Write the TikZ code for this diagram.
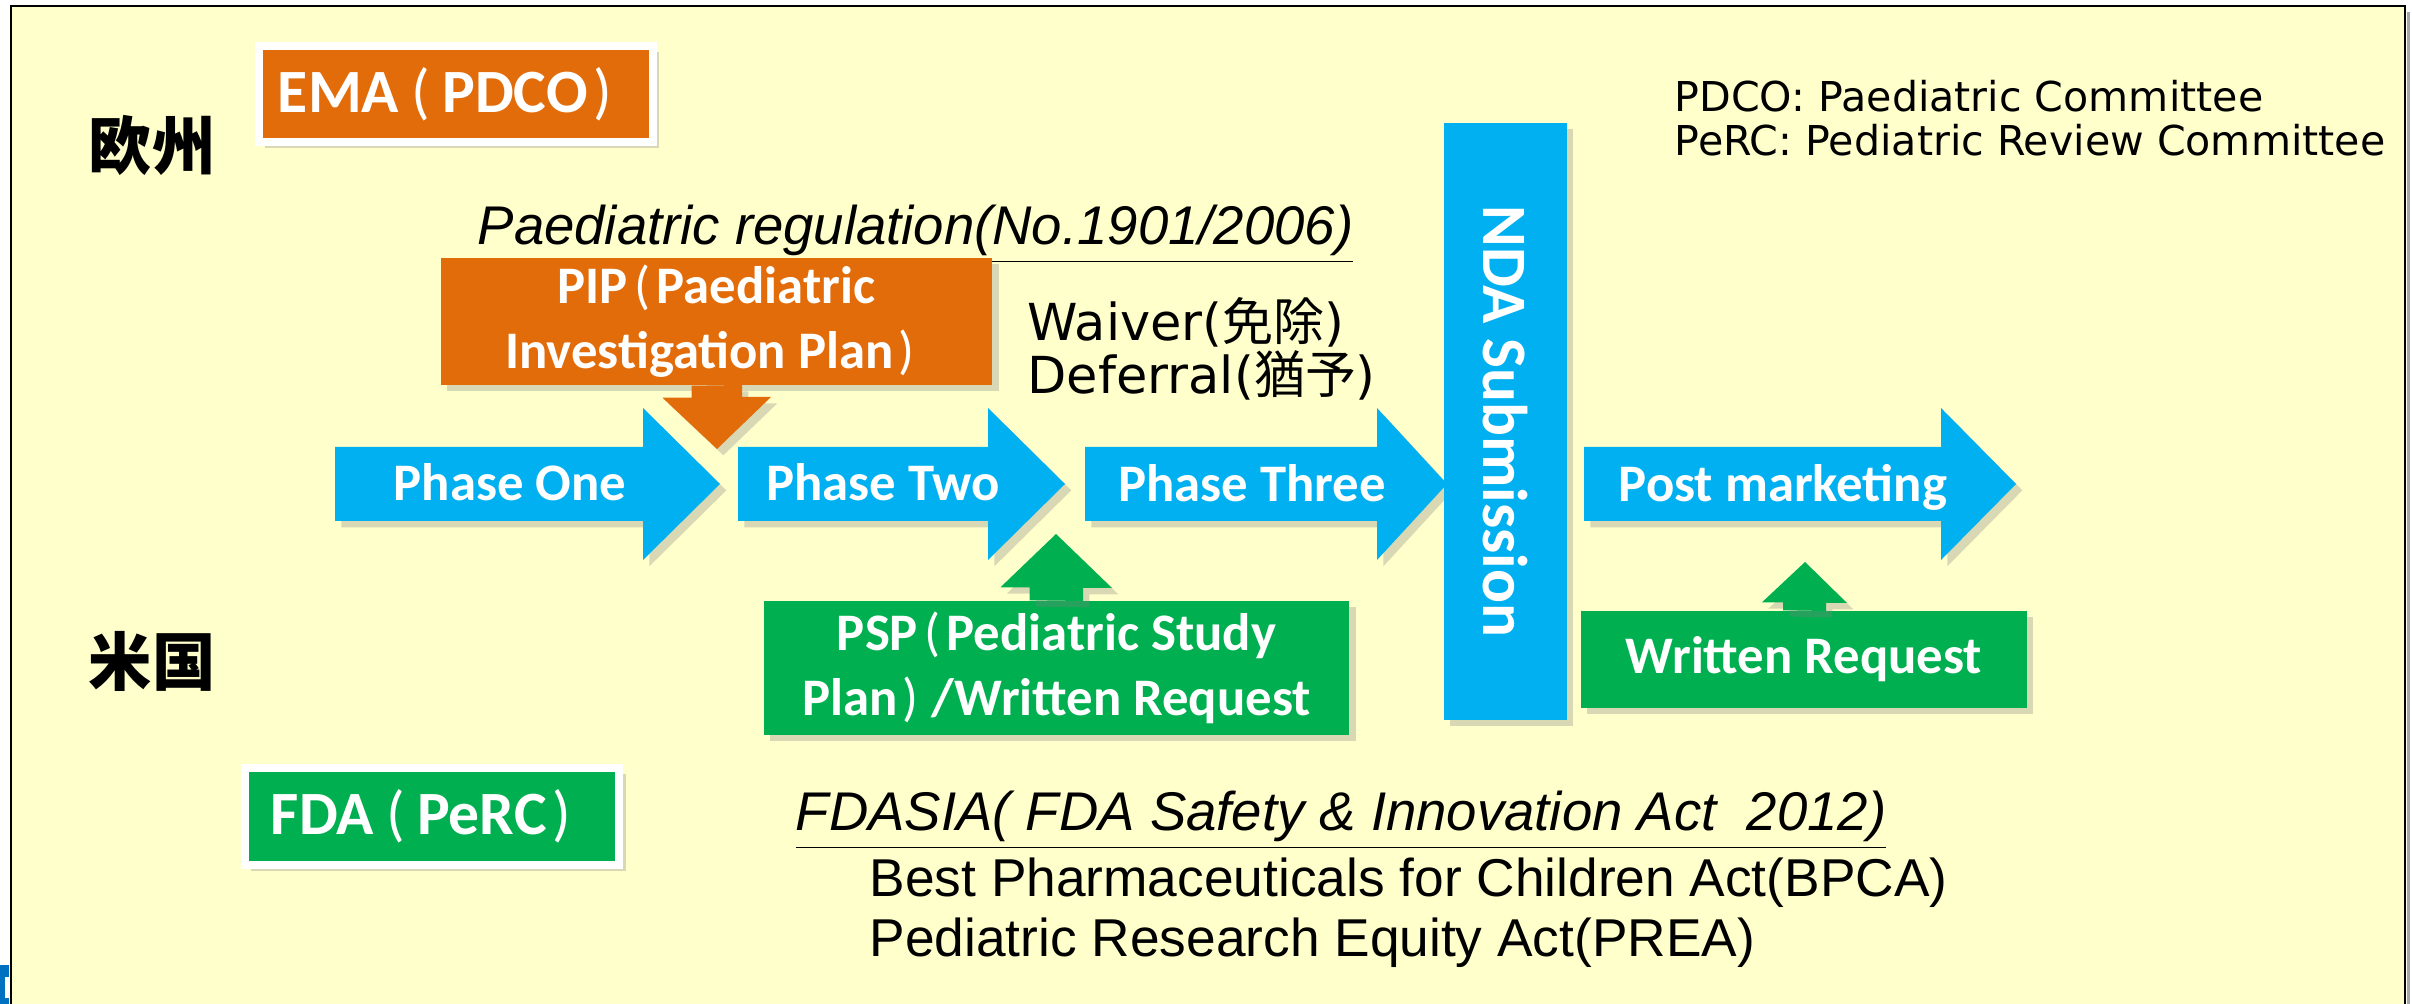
\documentclass[tikz,border=0pt]{standalone}
\usepackage{fontspec}
\setmainfont{Carlito}
\newfontfamily\cjk{Noto Sans CJK JP}
\newfontfamily\dejavu{DejaVu Sans}
\newfontfamily\arialf{Liberation Sans}
\usetikzlibrary{shadows}
\definecolor{bgyellow}{RGB}{255,255,204}
\definecolor{phaseblue}{RGB}{0,176,240}
\definecolor{eporange}{RGB}{227,108,10}
\definecolor{usgreen}{RGB}{0,176,80}
\definecolor{fragblue}{RGB}{0,112,192}
\newcommand\zl{{\kern0.12em\mdseries(\kern0.12em}}
\newcommand\zr{{\kern0.1em\mdseries)\kern0.25em}}
\newcommand\agl{{\kern0.2em\mdseries(\kern0.2em}}
\newcommand\agr{{\kern0.1em\mdseries)\kern0.35em}}
\tikzset{
  boxshadow/.style={drop shadow={opacity=0.3,shadow xshift=1.8pt,shadow yshift=-1.8pt}},
  agency/.style={boxshadow,draw=white,line width=2.3pt,inner sep=0pt,text=white,font=\bfseries\fontsize{17.5}{20}\selectfont},
  planbox/.style={boxshadow,inner sep=0pt,text=white,align=center,font=\bfseries\fontsize{15}{18.5}\selectfont},
  phasetext/.style={text=white,inner sep=0pt,anchor=base,font=\bfseries\fontsize{15}{18}\selectfont},
  regionlabel/.style={inner sep=0pt,font=\cjk\bfseries\fontsize{18}{20}\selectfont},
  legendtext/.style={inner sep=0pt,anchor=base west,font=\dejavu\fontsize{11.7}{14}\selectfont},
  waivertext/.style={inner sep=0pt,anchor=base west,font=\dejavu\fontsize{14.5}{17}\selectfont},
  lawline/.style={inner sep=0pt,anchor=base west,font=\arialf\fontsize{15.15}{18}\selectfont}
}
\begin{document}
\begin{tikzpicture}[x=0.01cm,y=-0.01cm]
\useasboundingbox (0,0) rectangle (2412,1004);
\filldraw[fill=bgyellow,line width=0.7pt] (11,6) rectangle (2405,1030);
\fill[black!35] (2406.5,12) rectangle (2410,1004);
\fill[fragblue] (0,965) rectangle (9,1004);
\fill[white] (5,977) rectangle (9,998);

\node[regionlabel] (eu) at (152,145) {欧州};
\node[regionlabel] (us) at (152,661) {米国};
\node[agency,fill=eporange,minimum width=3.94cm,minimum height=0.96cm] (ema) at (456,94) {EMA\agl PDCO\agr};
\node[agency,fill=usgreen,minimum width=3.745cm,minimum height=0.97cm] (fda) at (432,816.5) {FDA\agl PeRC\agr};

\node[legendtext] (pdco) at (1674,112) {PDCO: Paediatric Committee};
\node[legendtext] (perc) at (1674,156) {PeRC: Pediatric Review Committee};

\foreach \a/\b/\c in {335/643/720,738/988/1065,1085/1377/1447,1584/1941/2016}
  \fill[phaseblue,boxshadow] (\a,447) -- (\b,447) -- (\b,408) -- (\c,484) -- (\b,560) -- (\b,521) -- (\a,521) -- cycle;
\node[phasetext] (one) at (510,501) {Phase One};
\node[phasetext] (two) at (883,501) {Phase Two};
\node[phasetext] (three) at (1252,502) {Phase Three};
\node[phasetext] (post) at (1783,502) {Post marketing};

\node[boxshadow,fill=phaseblue,inner sep=0pt,minimum width=1.23cm,minimum height=5.97cm] (nda) at (1505.5,421.5) {};
\node[text=white,inner sep=0pt,rotate=-90,font=\bfseries\fontsize{18}{20}\selectfont] (ndatext) at (nda.center) {NDA Submission};

\node[lawline,font=\arialf\itshape\fontsize{15.5}{18}\selectfont] (reg) at (477,245) {\underline{Paediatric regulation(No.1901/2006)}};
\node[planbox,fill=eporange,minimum width=5.51cm,minimum height=1.27cm] (pip) at (716.5,321.5) {PIP\zl Paediatric\\Investigation Plan\zr};
\coordinate (piptip) at (717,449);
\fill[eporange,boxshadow] (pip.south) ++(-25,0) -- ++(0,12) -- ++(-29,0) -- (piptip) -- ++(54,-52) -- ++(-29,0) -- ++(0,-12) -- cycle;

\node[waivertext] (waiver) at (1027,341) {Waiver({\cjk 免除})};
\node[waivertext] (deferral) at (1027,394) {Deferral({\cjk 猶予})};

\node[planbox,fill=usgreen,minimum width=5.85cm,minimum height=1.34cm] (psp) at (1056.5,668) {PSP\zl Pediatric Study\\Plan\zr/Written Request};
\coordinate (psptip) at (1056,534);
\fill[usgreen,boxshadow] (psp.north) ++(-27,0) -- ++(0,-13) -- ++(-29,0) -- (psptip) -- ++(56,54) -- ++(-29,0) -- ++(0,13) -- cycle;

\node[planbox,fill=usgreen,minimum width=4.46cm,minimum height=0.97cm] (wr) at (1804,659.5) {Written Request};
\coordinate (wrtip) at (1805,562);
\fill[usgreen,boxshadow] (wr.north) ++(-21,0) -- ++(0,-8) -- ++(-21,0) -- (wrtip) -- ++(42,41) -- ++(-21,0) -- ++(0,8) -- cycle;

\node[lawline,font=\arialf\itshape\fontsize{15.5}{18}\selectfont] (fdasia) at (795,831) {\underline{FDASIA( FDA Safety \& Innovation Act\ \ 2012)}};
\node[lawline] (bpca) at (869,897) {Best Pharmaceuticals for Children Act(BPCA)};
\node[lawline] (prea) at (869,957) {Pediatric Research Equity Act(PREA)};
\end{tikzpicture}
\end{document}
